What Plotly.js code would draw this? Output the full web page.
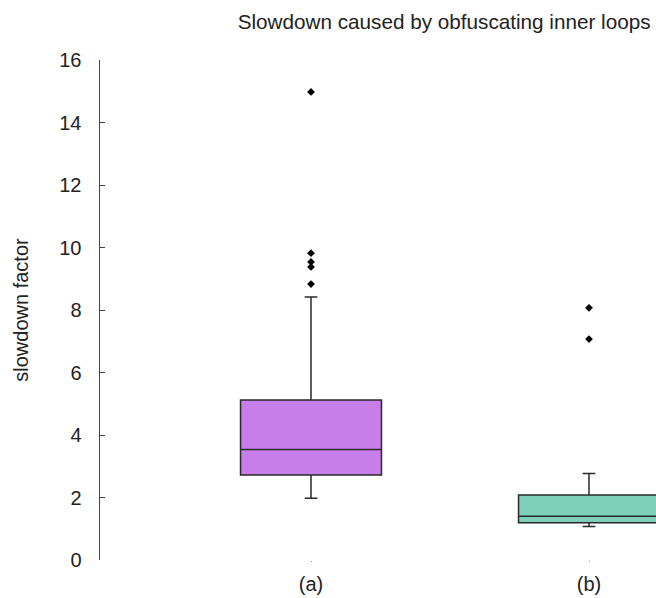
<!DOCTYPE html>
<html>
<head>
<meta charset="utf-8">
<script src="https://cdn.plot.ly/plotly-3.0.1.min.js"></script>
<style>html,body{margin:0;padding:0;background:#fff;}#chart{width:656px;height:598px;}</style>
</head>
<body>
<div id="chart"></div>
<script>
const categories = ["(a)", "(b)"];
const positions = [0, 1];
const lowerWhisker = [1.98, 1.07];
const q1 = [2.72, 1.19];
const median = [3.54, 1.40];
const q3 = [5.12, 2.08];
const upperWhisker = [8.42, 2.77];
const outliersA = [14.98, 9.82, 9.54, 9.38, 8.83];
const outliersB = [8.07, 7.07];
const colors = ["#c77ee9", "#7ecfb8"];

const traces = [];
for (let i = 0; i < categories.length; i++) {
  traces.push({
    type: "box",
    x: [positions[i]],
    q1: [q1[i]], median: [median[i]], q3: [q3[i]],
    lowerfence: [lowerWhisker[i]], upperfence: [upperWhisker[i]],
    boxpoints: false,
    width: 0.507,
    whiskerwidth: 0.09,
    fillcolor: colors[i],
    line: {color: "#2a2a2a", width: 1.5},
    hoverinfo: "skip",
    showlegend: false
  });
}
const outlierSets = [outliersA, outliersB];
outlierSets.forEach((vals, i) => {
  traces.push({
    type: "scatter", mode: "markers",
    x: vals.map(() => positions[i]), y: vals,
    marker: {symbol: "diamond", size: 6, color: "#000"},
    showlegend: false, hoverinfo: "skip"
  });
});

const layout = {
  width: 656, height: 598,
  margin: {l: 100, r: 0, t: 60, b: 38},
  paper_bgcolor: "#fff", plot_bgcolor: "#fff",
  font: {family: "Liberation Sans, Arial, sans-serif", color: "#222"},
  title: {text: "Slowdown caused by obfuscating inner loops", x: 0.677, xanchor: "center", y: 0.963, yanchor: "middle", font: {size: 20.7, color: "#222"}},
  xaxis: {
    range: [-0.759, 1.241], tickvals: positions, ticktext: categories,
    showgrid: false, zeroline: false, showline: false,
    ticks: "outside", ticklen: 1, tickcolor: "#999",
    ticklabelstandoff: 5,
    tickfont: {size: 20}
  },
  yaxis: {
    range: [0, 16], tickvals: [0,2,4,6,8,10,12,14,16],
    showgrid: false, zeroline: false, showline: true, linecolor: "#444", linewidth: 1.5,
    ticks: "inside", ticklen: 5, tickcolor: "#444",
    ticklabelstandoff: 13,
    tickfont: {size: 20},
    title: {text: "slowdown factor", font: {size: 20}, standoff: 25}
  }
};
Plotly.newPlot("chart", traces, layout, {displayModeBar: false, staticPlot: true});
</script>
</body>
</html>
